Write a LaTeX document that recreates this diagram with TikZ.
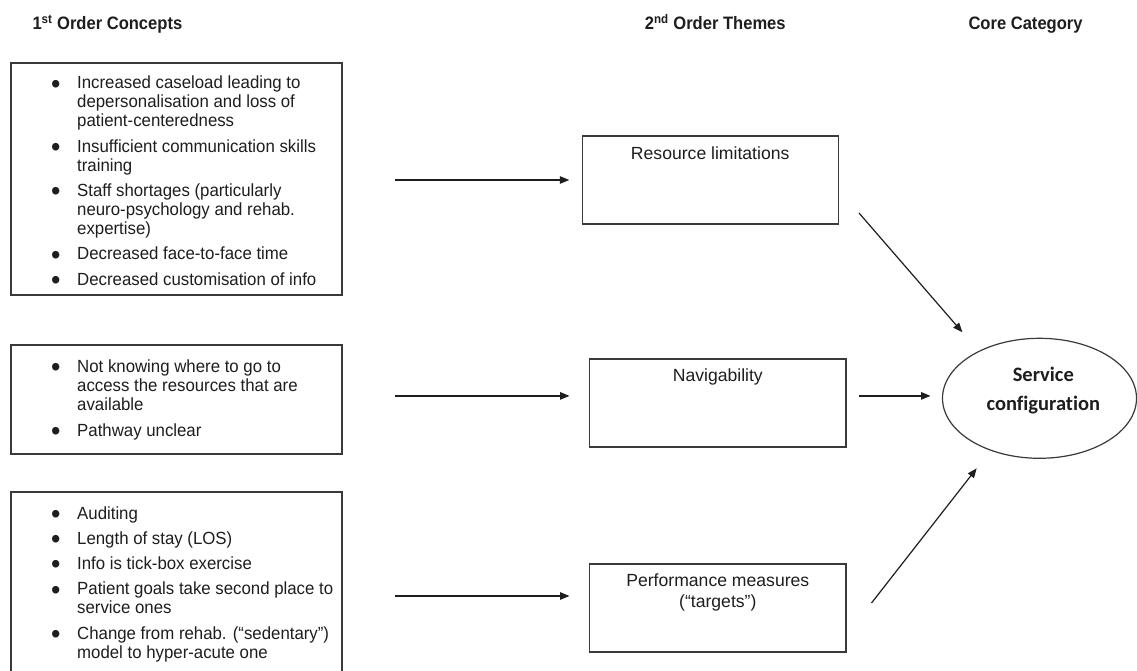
\documentclass[tikz,border=0pt]{standalone}
\usepackage{fontspec}
\setmainfont{Liberation Sans}
\newfontfamily\listfont[FakeStretch=0.955]{Liberation Sans}
\newfontfamily\headfont[FakeStretch=0.92]{Liberation Sans}
\newfontfamily\corefont[Ligatures=NoCommon]{Carlito}
\usetikzlibrary{arrows.meta,shapes.geometric}
\definecolor{ink}{HTML}{1E1E1E}
\definecolor{rulecol}{HTML}{3A3A3A}
% large round bullet and hanging indent for the concept lists
\newcommand\bul{\makebox[26pt][l]{\raisebox{-4.2pt}{\fontsize{28}{19}\selectfont\textbullet}}}
\newcommand\cont{\hspace*{26pt}}

\begin{document}
\begin{tikzpicture}[x=1pt,y=-1pt,
  conceptbox/.style={draw=rulecol, line width=1.3pt, anchor=north west,
    inner sep=0pt, outer sep=0pt, minimum width=331pt},
  themebox/.style={draw=rulecol, line width=1.3pt, anchor=north west,
    inner sep=0pt, outer sep=0pt, minimum width=256.5pt, minimum height=88pt},
  listtext/.style={anchor=base west, inner sep=0pt, text=ink,
    font=\listfont\fontsize{17.6}{19}\selectfont},
  themetext/.style={anchor=base, inner sep=0pt, text=ink,
    font=\fontsize{17.6}{21.3}\selectfont},
  header/.style={anchor=base west, inner sep=0pt, text=ink,
    font=\headfont\bfseries\fontsize{18}{20}\selectfont},
  corecat/.style={draw=rulecol, line width=1.2pt, ellipse, inner sep=0pt,
    outer sep=0pt, minimum width=194pt, minimum height=120pt},
  coretext/.style={anchor=base, inner sep=0pt, text=ink,
    font=\corefont\bfseries\fontsize{20.5}{29}\selectfont},
  arr/.style={draw=ink, line width=1.2pt, -{Triangle[length=9.5pt,width=7.5pt]}}
]
\useasboundingbox (0,0) rectangle (1137,671);
\clip (0,0) rectangle (1137,671);
\fill[white] (0,0) rectangle (1137,671);

% column headings
\node[header] (h1) at (32.3,29.3) {1\textsuperscript{st} Order Concepts};
\node[header] (h2) at (644.7,29.3) {2\textsuperscript{nd} Order Themes};
\node[header] (h3) at (968.3,29.3) {Core Category};

% first-order concept boxes
\node[conceptbox, minimum height=232pt] (c1) at (11,63) {};
\node[listtext] (c1l) at (51,89) {\begin{tabular}[t]{@{}l@{}}
\bul Increased caseload leading to\\
\cont depersonalisation and loss of\\
\cont patient-centeredness\\[6.3pt]
\bul Insufficient communication skills\\
\cont training\\[6.3pt]
\bul Staff shortages (particularly\\
\cont neuro-psychology and rehab.\\
\cont expertise)\\[6.3pt]
\bul Decreased face-to-face time\\[6.3pt]
\bul Decreased customisation of info
\end{tabular}};

\node[conceptbox, minimum height=109pt] (c2) at (11,345) {};
\node[listtext] (c2l) at (51,372.7) {\begin{tabular}[t]{@{}l@{}}
\bul Not knowing where to go to\\
\cont access the resources that are\\
\cont available\\[6.3pt]
\bul Pathway unclear
\end{tabular}};

\node[conceptbox, minimum height=200pt] (c3) at (11,492) {};
\node[listtext] (c3l) at (51,519) {\begin{tabular}[t]{@{}l@{}}
\bul Auditing\\[6.3pt]
\bul Length of stay (LOS)\\[6.3pt]
\bul Info is tick-box exercise\\[6.3pt]
\bul Patient goals take second place to\\
\cont service ones\\[6.3pt]
\bul Change from rehab. (“sedentary”)\\
\cont model to hyper-acute one
\end{tabular}};

% second-order theme boxes
\node[themebox] (t1) at (582.3,136) {};
\node[themetext] (t1l) at (710.2,159.3) {Resource limitations};
\node[themebox] (t2) at (589.5,359) {};
\node[themetext] (t2l) at (717.8,381.7) {Navigability};
\node[themebox] (t3) at (589.5,564) {};
\node[themetext] (t3l) at (717.8,586) {\begin{tabular}[t]{@{}c@{}}
Performance measures\\(“targets”)\end{tabular}};

% core category
\node[corecat] (sc) at (1039.5,398.3) {};
\node[coretext] (scl) at (1043.3,381) {\begin{tabular}[t]{@{}c@{}}
Service\\configuration\end{tabular}};

% heights of the horizontal connectors
\coordinate (a2) at (0,395.9);
\coordinate (a3) at (0,596);
% free ends of the slanted connectors
\coordinate (d1a) at (859,213);
\coordinate (d1b) at (962.4,332.3);
\coordinate (d3a) at (871.5,603);
\coordinate (d3b) at (976.7,468.3);

\draw[arr, shorten <=53pt, shorten >=13pt] (c1.east |- t1.west) -- (t1.west);
\draw[arr, shorten <=53pt, shorten >=20pt] (c2.east |- a2) -- (t2.west |- a2);
\draw[arr, shorten <=53pt, shorten >=20pt] (c3.east |- a3) -- (t3.west |- a3);
\draw[arr, shorten <=13pt, shorten >=12pt] (t2.east |- a2) -- (sc.west |- a2);
\draw[arr] (d1a) -- (d1b);
\draw[arr] (d3a) -- (d3b);
\end{tikzpicture}
\end{document}
